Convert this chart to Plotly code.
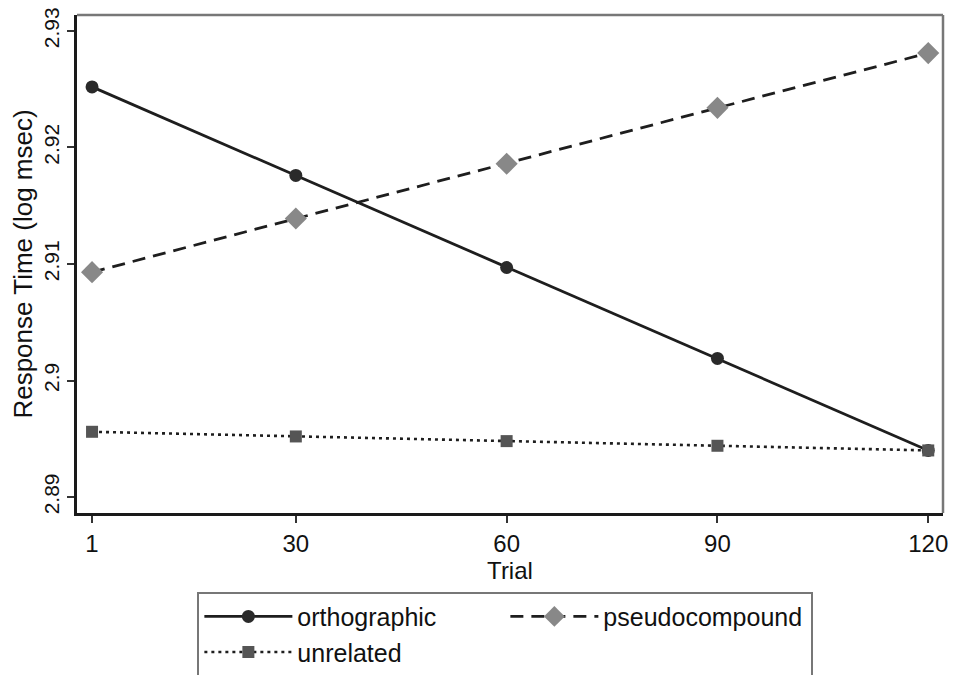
import plotly.graph_objects as go

trials = [1, 30, 60, 90, 120]
orthographic = [2.9252, 2.9176, 2.9097, 2.9019, 2.8940]
pseudocompound = [2.9093, 2.9139, 2.9186, 2.9234, 2.9281]
unrelated = [2.8956, 2.8952, 2.8948, 2.8944, 2.8940]

y_ticks = [2.89, 2.90, 2.91, 2.92, 2.93]
y_ticktext = ["2.89", "2.9", "2.91", "2.92", "2.93"]
x_ticks = [1, 30, 60, 90, 120]

FONT = "Liberation Sans, Arial, Helvetica, sans-serif"

fig = go.Figure()
fig.add_trace(go.Scatter(
    x=trials, y=orthographic, name="orthographic", mode="lines+markers",
    line=dict(color="#1e1e1e", width=2.8, dash="solid"),
    marker=dict(symbol="circle", size=13, color="#2a2a2a"),
))
fig.add_trace(go.Scatter(
    x=trials, y=pseudocompound, name="pseudocompound", mode="lines+markers",
    line=dict(color="#1e1e1e", width=2.8, dash="13px,8px"),
    marker=dict(symbol="diamond", size=17, color="#888888"),
))
fig.add_trace(go.Scatter(
    x=trials, y=unrelated, name="unrelated", mode="lines+markers",
    line=dict(color="#1e1e1e", width=2.6, dash="3px,4px"),
    marker=dict(symbol="square", size=12, color="#555555"),
))

fig.update_layout(
    width=953, height=675,
    margin=dict(l=77, r=10, t=15, b=162, autoexpand=False),
    paper_bgcolor="white", plot_bgcolor="white",
    font=dict(family=FONT, size=22, color="#111111"),
    showlegend=True,
    legend=dict(
        orientation="h", xref="paper", yref="paper",
        x=0.139, y=-0.158, xanchor="left", yanchor="top",
        bordercolor="#777777", borderwidth=2,
        entrywidth=203, entrywidthmode="pixels",
        itemwidth=88,
        font=dict(family=FONT, size=25, color="#111111"),
        tracegroupgap=0,
    ),
    xaxis=dict(
        range=[-1.14, 122.1], tickvals=x_ticks, ticktext=[str(t) for t in x_ticks],
        showgrid=False, zeroline=False, automargin=False,
        showline=True, linecolor="#1a1a1a", linewidth=2.5,
        ticks="outside", ticklen=7, tickwidth=1.5, tickcolor="#333333",
        title=dict(text="Trial", standoff=6, font=dict(size=24)),
        tickfont=dict(size=24),
    ),
    yaxis=dict(
        range=[2.88863, 2.93137], tickvals=y_ticks, ticktext=y_ticktext,
        showgrid=False, zeroline=False, automargin=False,
        showline=True, linecolor="#1a1a1a", linewidth=2.5,
        ticks="outside", ticklen=7, tickwidth=1.5, tickcolor="#333333",
        tickangle=-90,
        title=dict(text="Response Time (log msec)", standoff=0, font=dict(size=26)),
        tickfont=dict(size=21),
    ),
)

# top and right frame (lighter gray)
fig.add_shape(type="line", xref="paper", yref="paper", x0=0, x1=1, y0=1, y1=1,
              line=dict(color="#777777", width=2.5))
fig.add_shape(type="line", xref="paper", yref="paper", x0=1, x1=1, y0=0, y1=1,
              line=dict(color="#777777", width=2.5))

fig.write_html("out.html")
